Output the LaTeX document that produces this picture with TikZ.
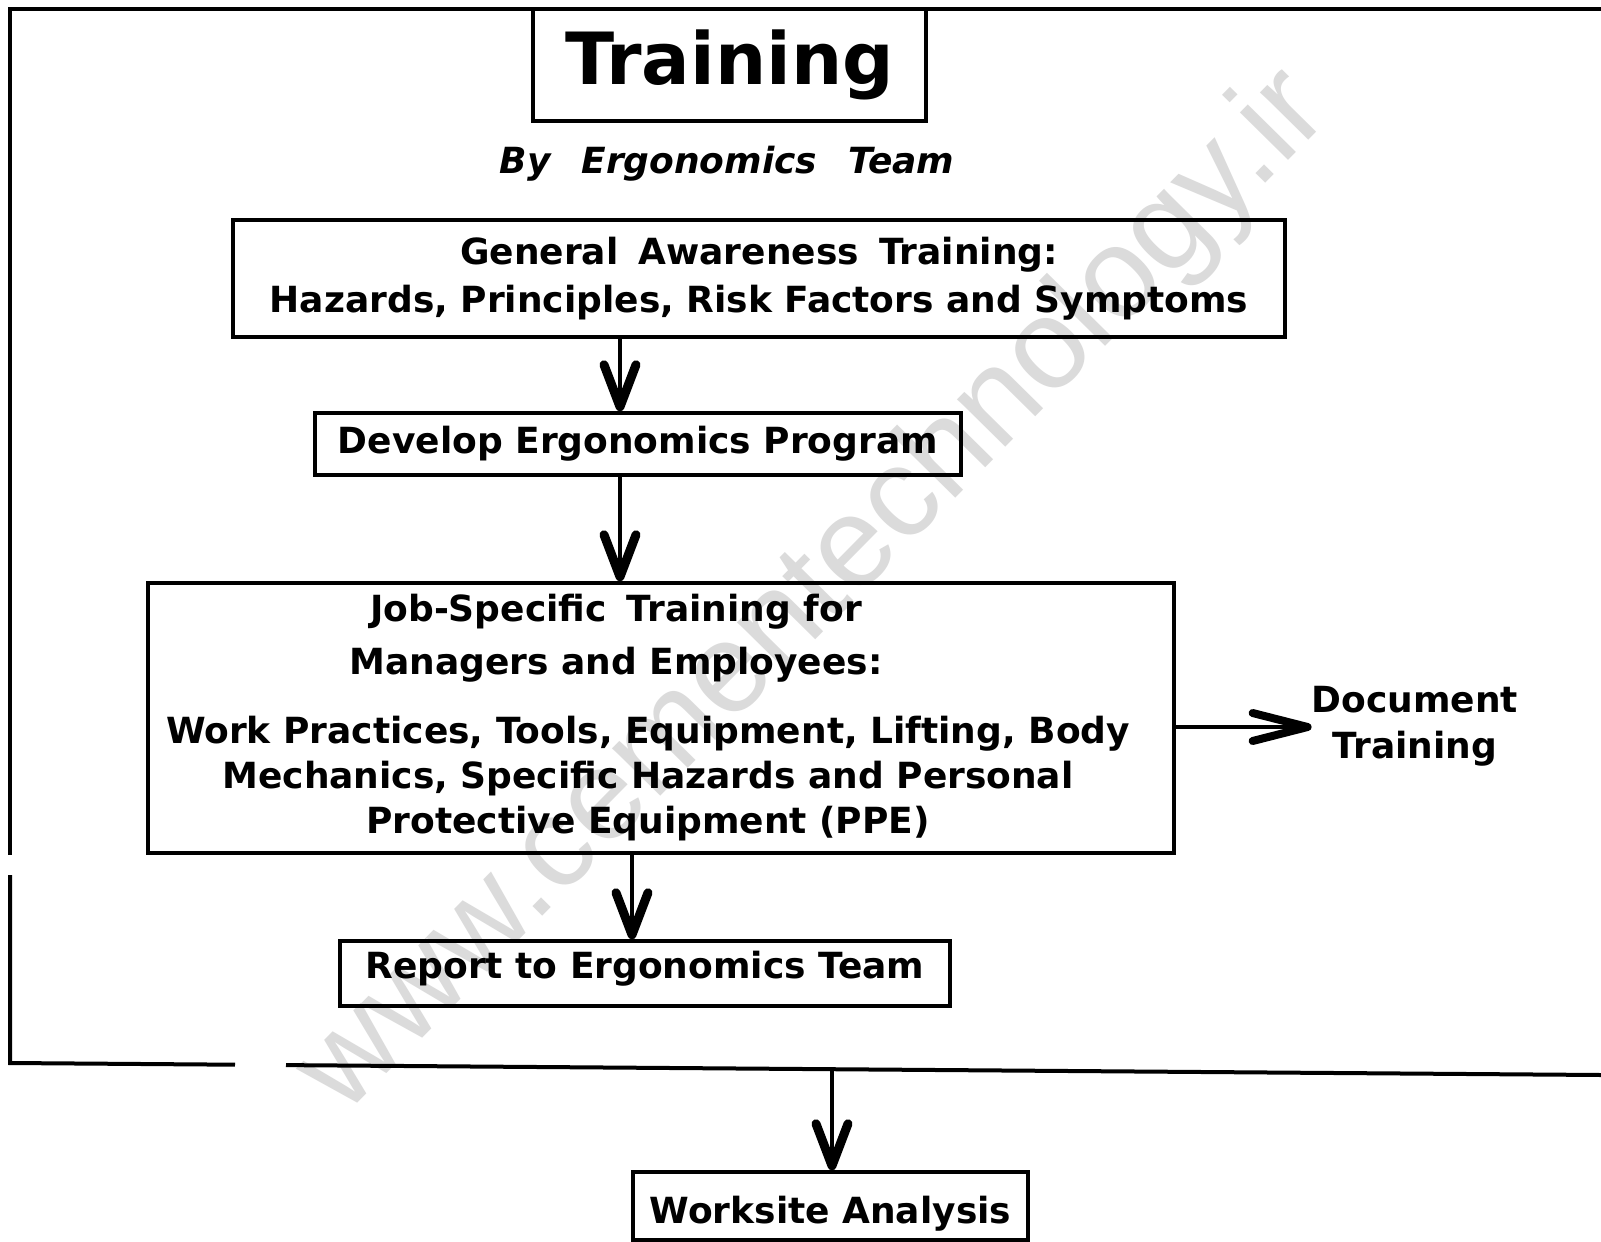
\documentclass[tikz,border=0pt]{standalone}
\usepackage{fontspec}
\setmainfont{DejaVu Sans}
\newfontfamily\wmfont{Liberation Sans}
\usetikzlibrary{arrows.meta}
\begin{document}
\begin{tikzpicture}[x=1pt,y=-1pt,
  box/.style={draw, line width=3.5pt, inner sep=0pt},
  txt/.style={align=center, inner sep=0pt, font=\fontsize{36}{#1}\selectfont\bfseries},
  txt/.default=46,
  arr/.style={line width=4.5pt, -{Straight Barb[length=42pt,width=32pt,line width=9pt,round]}},
  arrside/.style={line width=4.5pt, -{Straight Barb[length=55pt,width=28pt,line width=8pt,round]}},
  frame/.style={line width=4pt}]
\useasboundingbox (0,0) rectangle (1601,1242);
\fill[white] (0,0) rectangle (1601,1242);
% watermark
\node[rotate=45.4, text=black!14, inner sep=0pt, font=\wmfont\fontsize{128}{128}\selectfont] (wm) at (815,593) {www.cementechnology.ir};
% outer frame
\draw[frame] (1601,9) -- (10,9) -- (10,855);
\draw[frame] (10,875) -- (10,1063) -- (235,1064.7);
\draw[frame] (286,1065.1) -- (1601,1075);
\coordinate (fb) at (832,1069);
% title
\node[box, minimum width=393pt, minimum height=112pt, font=\fontsize{72}{72}\selectfont\bfseries] (title) at (729.5,65) {Training};
\node[inner sep=0pt, font=\fontsize{36}{36}\selectfont\bfseries\itshape] (by) at (727,164) {By\hspace{31pt}Ergonomics\hspace{31pt}Team};
% boxes
\node[box, txt=48, minimum width=1052pt, minimum height=117pt] (gen) at (759,278.5) {General\hspace{20pt}Awareness\hspace{20pt}Training:\\Hazards, Principles, Risk Factors and Symptoms};
\node[box, txt, minimum width=646pt, minimum height=62pt] (dev) at (638,444) {Develop Ergonomics Program};
\node[box, minimum width=1026pt, minimum height=270pt] (job) at (661,718) {};
\node[txt=53] (jobA) at (616,638) {Job-Specific\hspace{20pt}Training for\\Managers and Employees:};
\node[txt=45] (jobB) at (648,779) {Work Practices, Tools, Equipment, Lifting, Body\\Mechanics, Specific Hazards and Personal\\Protective Equipment (PPE)};
\node[box, txt, text height=27pt, text depth=18pt, minimum width=610pt, minimum height=65pt] (rep) at (645,973.5) {Report to Ergonomics Team};
\node[txt=46] (doc) at (1415,726) {Document\\Training};
\node[box, txt, text height=35pt, text depth=0pt, minimum width=395pt, minimum height=68pt] (ws) at (830.5,1206) {Worksite Analysis};
% connectors
\coordinate (xa) at (620,0);
\coordinate (xb) at (632,0);
\coordinate (xc) at (832,0);
\coordinate (ya) at (0,727);
\draw[arr] (gen.south -| xa) -- (dev.north -| xa);
\draw[arr] (dev.south -| xa) -- (job.north -| xa);
\draw[arr] (job.south -| xb) -- (rep.north -| xb);
\draw[arr] (fb) -- (ws.north -| xc);
\draw[arrside] (job.east |- ya) -- (doc.west |- ya);
\end{tikzpicture}
\end{document}
